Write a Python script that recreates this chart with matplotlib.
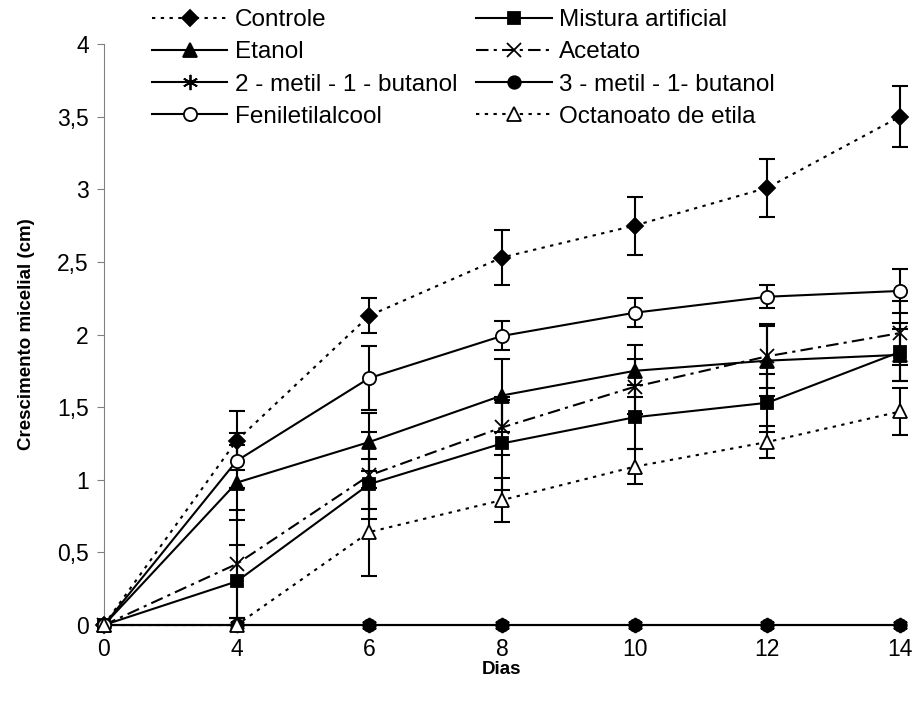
import matplotlib
matplotlib.use("Agg")
import matplotlib.pyplot as plt
from matplotlib.ticker import FuncFormatter, FixedLocator

plt.rcParams['font.family'] = ['Liberation Sans', 'DejaVu Sans']

dias = [0, 4, 6, 8, 10, 12, 14]

controle = [0, 1.27, 2.13, 2.53, 2.75, 3.01, 3.50]
controle_err = [0, 0.20, 0.12, 0.19, 0.20, 0.20, 0.21]
mistura = [0, 0.30, 0.97, 1.25, 1.43, 1.53, 1.88]
mistura_err = [0, 0.25, 0.17, 0.32, 0.22, 0.20, 0.20]
etanol = [0, 0.98, 1.26, 1.58, 1.75, 1.82, 1.86]
etanol_err = [0, 0.26, 0.20, 0.25, 0.18, 0.24, 0.18]
acetato = [0, 0.42, 1.03, 1.36, 1.64, 1.85, 2.01]
acetato_err = [0, 0.37, 0.30, 0.19, 0.19, 0.22, 0.22]
metil2 = [0, 0, 0, 0, 0, 0, 0]
metil3 = [0, 0, 0, 0, 0, 0, 0]
fenil = [0, 1.13, 1.70, 1.99, 2.15, 2.26, 2.30]
fenil_err = [0, 0.19, 0.22, 0.10, 0.10, 0.08, 0.15]
octanoato = [0, 0, 0.64, 0.86, 1.09, 1.26, 1.47]
octanoato_err = [0, 0, 0.30, 0.15, 0.12, 0.11, 0.16]

x = list(range(len(dias)))

dotted = (0, (1.6, 2.6))
dashdot = (0, (6, 2.5, 1.5, 2.5))

series = [
    ("Controle", controle, controle_err, dotted, "D", "black", 8),
    ("Mistura artificial", mistura, mistura_err, "-", "s", "black", 8.5),
    ("Etanol", etanol, etanol_err, "-", "^", "black", 9.5),
    ("Acetato", acetato, acetato_err, dashdot, "x", "black", 10),
    ("2 - metil - 1 - butanol", metil2, None, "-", (6, 2, 0), "black", 11),
    ("3 - metil - 1- butanol", metil3, None, "-", "o", "black", 9),
    ("Feniletilalcool", fenil, fenil_err, "-", "o", "white", 9.5),
    ("Octanoato de etila", octanoato, octanoato_err, dotted, "^", "white", 10),
]

fig = plt.figure(figsize=(9.16, 7.06), dpi=100)
ax = fig.add_axes([0.1135, 0.1147, 0.869, 0.823])

handles = []
for name, vals, err, ls, mk, fc, ms in series:
    if err is not None:
        ax.errorbar(x, vals, yerr=err, fmt="none", ecolor="black",
                    elinewidth=1.5, capsize=6, capthick=1.5, zorder=2,
                    clip_on=False)
    h, = ax.plot(x, vals, linestyle=ls, color="black", linewidth=1.5,
                 marker=mk, markersize=ms, markerfacecolor=fc,
                 markeredgecolor="black", markeredgewidth=1.3,
                 label=name, zorder=3, clip_on=False)
    handles.append(h)

ax.set_xlim(0, len(dias) - 1)
ax.set_ylim(0, 4)
ax.set_xticks(x)
ax.set_xticklabels([str(d) for d in dias])
ax.yaxis.set_major_locator(FixedLocator([0, 0.5, 1, 1.5, 2, 2.5, 3, 3.5, 4]))
ax.yaxis.set_major_formatter(FuncFormatter(lambda v, p: f"{v:g}".replace(".", ",")))

for s in ["top", "right"]:
    ax.spines[s].set_visible(False)
ax.spines["left"].set_color("#808080")
ax.spines["bottom"].set_color("#808080")
ax.tick_params(axis="y", length=5, color="#808080", labelsize=16.5, pad=6)
ax.tick_params(axis="x", length=0, labelsize=16.5, pad=9)

ax.set_xlabel("Dias", fontsize=13.5, fontweight="bold", labelpad=0)
ax.set_ylabel("Crescimento micelial (cm)", fontsize=13.5, fontweight="bold", labelpad=16)

# legend is filled row by row in the original
order = [0, 2, 4, 6, 1, 3, 5, 7]
fig.legend(handles=[handles[i] for i in order], loc="upper left",
           bbox_to_anchor=(0.166, 0.987), ncol=2, frameon=False,
           fontsize=17.5, handlelength=3.1, handletextpad=0.3,
           columnspacing=0.78, labelspacing=0.42, borderpad=0,
           borderaxespad=0)

fig.savefig("out.png", dpi=100)
